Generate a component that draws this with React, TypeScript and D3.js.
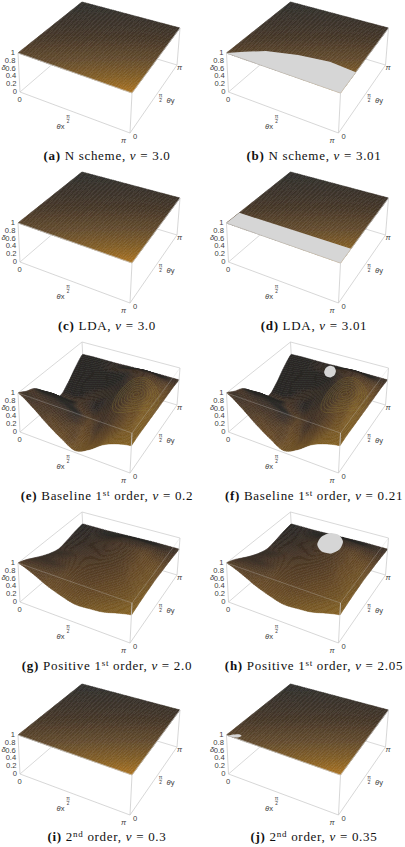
import * as d3 from "d3";
import {useMemo} from "react";

type Grid = number[][];

// heights, rows go θy = 0..π, columns θx = 0..π
const flatTop: Grid = [
    [1, 1],
    [1, 1],
];
const baselineSurface: Grid = [
    [1.0, .76, .47, .23, .05, .20, .45, .60, .68],
    [.88, .70, .46, .22, .03, .22, .48, .66, .70],
    [.78, .62, .40, .18, .06, .30, .56, .74, .70],
    [.55, .48, .30, .10, .20, .45, .68, .80, .70],
    [.31, .26, .12, .08, .32, .58, .78, .85, .70],
    [.05, .04, .15, .28, .48, .72, .88, .88, .70],
    [.20, .22, .30, .42, .62, .85, .96, .88, .70],
    [.45, .48, .55, .65, .78, .90, .92, .82, .70],
    [.65, .66, .66, .66, .67, .67, .68, .68, .68],
];
const positiveSurface: Grid = [
    [1.0, .86, .68, .55, .46, .48, .52, .62, .70],
    [.92, .82, .68, .58, .52, .54, .58, .65, .72],
    [.80, .74, .66, .62, .62, .66, .70, .74, .74],
    [.68, .64, .64, .68, .74, .78, .82, .80, .75],
    [.58, .60, .64, .72, .84, .90, .90, .84, .76],
    [.52, .56, .66, .78, .92, .97, .95, .86, .75],
    [.56, .60, .70, .82, .95, .98, .95, .84, .74],
    [.62, .64, .70, .78, .88, .90, .86, .78, .72],
    [.66, .66, .66, .67, .68, .69, .70, .70, .70],
];

// clipped regions (δ > 1) as [θx/π, θy/π]
const holeB = [[0, 0], [.1, .1], [.235, .21], [.48, .3], [.75, .345], [1, .32], [1, 0]];
const holeD = [[0, 0], [0, .2], [1, .22], [1, 0]];
const holeF = [[.591, .771], [.549, .816], [.507, .817], [.491, .772], [.509, .709], [.551, .664], [.593, .663], [.609, .708]];
const holeH = [[.652, .787], [.572, .862], [.487, .855], [.448, .767], [.474, .651], [.554, .576], [.639, .583], [.678, .671]];
const holeJ = [[.02, 0], [.05, 0], [.09, .02], [.1, .06], [.07, .07], [.03, .03]];

const tags = ["a", "b", "c", "d", "e", "f", "g", "h", "i", "j"];
const names = ["N scheme", "N scheme", "LDA", "LDA", "Baseline 1|st| order", "Baseline 1|st| order", "Positive 1|st| order", "Positive 1|st| order", "2|nd| order", "2|nd| order"];
const nus = ["3.0", "3.01", "3.0", "3.01", "0.2", "0.21", "2.0", "2.05", "0.3", "0.35"];
const surfaces = [flatTop, flatTop, flatTop, flatTop, baselineSurface, baselineSurface, positiveSurface, positiveSurface, flatTop, flatTop];
const holes = [null, holeB, null, holeD, null, holeF, null, holeH, null, holeJ];

const zTicks = [0, .2, .4, .6, .8, 1];
const ringRadii = [.025, .05, .075, .1, .125, .15, .175, .2];

const WIDTH = 405;
const HEIGHT = 847;
const rowY = [0, 170, 340, 510, 682];
const colX = [0, 208.5];
const captionY = [160, 330, 500, 670, 841];
const captionX = [107, 314];

// corners of the plot box on screen, first letter = z level
const box = {
    topL: [18, 53], topB: [82, 2], topR: [180, 28], topF: [132, 93],
    botL: [20, 92], botB: [84, 37], botR: [177, 65], botF: [130, 133],
};

const zScale = d3.scaleLinear().domain([0, 1]).range([0, 1]);
const colorFlat = d3.scaleLinear<string>()
    .domain([0, .35, .6, .8, 1])
    .range(["#343331", "#4a3a2a", "#6a5030", "#8a6429", "#b87c24"]);
const colorCurved = d3.scaleLinear<string>()
    .domain([0, .3, .6, .8, 1])
    .range(["#2e2b29", "#4b3829", "#6e4f2a", "#82602a", "#926c28"]);

const project = (u: number, v: number, z: number) => {
    const mix = (a: number[], b: number[], c: number[], d: number[], i: number) =>
        (a[i] * (1 - u) + b[i] * u) * (1 - v) + (c[i] * (1 - u) + d[i] * u) * v;
    const zz = zScale(z);
    return [0, 1].map(i =>
        mix(box.topL, box.topF, box.topB, box.topR, i) * zz +
        mix(box.botL, box.botF, box.botB, box.botR, i) * (1 - zz));
};

const catmull = (p: number[], t: number) => {
    const n = p.length - 1;
    const x = Math.min(t * n, n - 1e-6);
    const i = Math.floor(x);
    const f = x - i;
    const p0 = p[Math.max(i - 1, 0)], p1 = p[i], p2 = p[Math.min(i + 1, n)], p3 = p[Math.min(i + 2, n)];
    return p1 + .5 * f * (p2 - p0 + f * (2 * p0 - 5 * p1 + 4 * p2 - p3 + f * (3 * (p1 - p2) + p3 - p0)));
};

const sample = (grid: Grid, u: number, v: number) =>
    Math.min(1, Math.max(0, catmull(grid.map(row => catmull(row, u)), v)));

const shade = (grid: Grid, u: number, v: number) => {
    const e = .02;
    const dzdu = (sample(grid, Math.min(u + e, 1), v) - sample(grid, Math.max(u - e, 0), v)) / (2 * e);
    const dzdv = (sample(grid, u, Math.min(v + e, 1)) - sample(grid, u, Math.max(v - e, 0))) / (2 * e);
    const base = (1 - v) * (.5 + .5 * u) + v * .22 * u;
    const steep = Math.max(0, Math.hypot(dzdu, dzdv) - 1.2);
    const rightGlow = u > .6 ? .16 * Math.max(0, -dzdu) : 0;
    return Math.max(0, Math.min(1, base - .2 * Math.max(0, -dzdv) - .08 * Math.max(0, dzdv) - .14 * steep + rightGlow));
};

const line = d3.line();
const closedCurve = d3.line().curve(d3.curveCardinalClosed.tension(.3));

const Surface = ({grid}: {grid: Grid}) => {
    const curved = grid.length > 2;
    const runs = useMemo(() => {
        const n = curved ? 64 : 56;
        const out: {d: string, t: number}[] = [];
        let cur = "", curT = -1;
        // back to front: high θy first, low θx first
        for (let j = n - 1; j >= 0; j--) {
            for (let i = 0; i < n; i++) {
                const u0 = i / n, u1 = (i + 1) / n, v0 = j / n, v1 = (j + 1) / n;
                const pts = [[u0, v0], [u1, v0], [u1, v1], [u0, v1]].map(([u, v]) => project(u, v, sample(grid, u, v)));
                const t = Math.round(shade(grid, (u0 + u1) / 2, (v0 + v1) / 2) * 36) / 36;
                if (t !== curT && cur) {
                    out.push({d: cur, t: curT});
                    cur = "";
                }
                curT = t;
                cur += line(pts as [number, number][]) + "Z";
            }
        }
        if (cur) out.push({d: cur, t: curT});
        return out;
    }, [grid]);
    const colorScale = curved ? colorCurved : colorFlat;
    return <g filter="url(#soft)">
        {runs.map((r, k) => {
            const c = colorScale(r.t);
            return <path key={k} d={r.d} fill={c} stroke={d3.color(c)!.darker(.4).formatHex()} strokeWidth={.45} />;
        })}
        {grid === baselineSurface && ringRadii.map(r => {
            const pts = d3.range(25).map(k => {
                const a = k / 24 * 2 * Math.PI;
                const u = .78 + r * Math.cos(a), v = .57 + r * Math.sin(a);
                return project(u, v, sample(grid, Math.min(u, 1), v));
            });
            return <path key={r} d={line(pts as [number, number][]) as string} fill="none" stroke="#8f7f34" strokeWidth={.55} opacity={.55} />;
        })}
    </g>;
};

const seg = (a: number[], b: number[]) => `M${a[0]},${a[1]}L${b[0]},${b[1]}`;

const Labels = () => {
    const tick = {fontFamily: "Liberation Sans, Arimo, sans-serif", fontSize: 7.6, fill: "#404040"};
    const frac = (x: number, y: number) => <g>
        <text {...tick} fontSize={5.4} x={x} y={y - 1} textAnchor="middle">π</text>
        <line x1={x - 1.8} x2={x + 1.8} y1={y} y2={y} stroke="#777" strokeWidth={.4} />
        <text {...tick} fontSize={4.6} x={x} y={y + 4.2} textAnchor="middle">2</text>
    </g>;
    return <g {...tick}>
        {zTicks.map((z, k) => {
            const p = project(0, 0, z);
            return <text key={k} x={p[0] - 3} y={p[1] + 2} textAnchor="end">{z}</text>;
        })}
        <text x={1.5} y={70} fontStyle="italic">δ</text>
        <text x={17.5} y={102}>0</text>
        <text x={56.5} y={129} fontStyle="italic">θ<tspan fontStyle="normal">x</tspan></text>
        {frac(68, 119)}
        <text x={121} y={143} fontStyle="italic">π</text>
        <text x={133} y={138.5}>0</text>
        {frac(160.5, 98)}
        <text x={166.5} y={103} fontStyle="italic">θ<tspan fontStyle="normal">y</tspan></text>
        <text x={177} y={70} fontStyle="italic">π</text>
    </g>;
};

const Caption = ({index}: {index: number}) => {
    const parts = names[index].split("|");
    const x = captionX[index % 2];
    const y = captionY[Math.floor(index / 2)];
    return <text x={x} y={y} textAnchor="middle" fontFamily="Liberation Serif, serif" fontSize={13} letterSpacing={.7} fill="#111">
        <tspan fontWeight="bold">({tags[index]})</tspan>
        <tspan> {parts[0]}</tspan>
        {parts.length > 1 && <tspan fontSize={9} dy={-4.5}>{parts[1]}</tspan>}
        {parts.length > 1 && <tspan dy={4.5}>{parts[2]}</tspan>}
        <tspan>, </tspan>
        <tspan fontStyle="italic">ν</tspan>
        <tspan> = {nus[index]}</tspan>
    </text>;
};

const Panel = ({index}: {index: number}) => {
    const col = index % 2;
    const row = Math.floor(index / 2);
    const hole = holes[index];
    const backEdges = [
        seg(box.botL, box.botB), seg(box.botB, box.botR), seg(box.botB, box.topB),
        seg(box.topL, box.topB), seg(box.topB, box.topR),
    ].join("");
    const frontEdges = [
        seg(box.topL, box.botL), seg(box.topF, box.botF), seg(box.topR, box.botR),
        seg(box.botL, box.botF), seg(box.botF, box.botR),
    ].join("");
    const rimEdges = seg(box.topL, box.topF) + seg(box.topF, box.topR);
    return <g transform={`translate(${colX[col]},${rowY[row]})`}>
        <path d={backEdges} fill="none" stroke="#cfcfcf" strokeWidth={.8} />
        <Surface grid={surfaces[index]} />
        {hole && <path
            d={(hole === holeB || hole === holeD
                ? line(hole.map(([u, v]) => project(u, v, 1)) as [number, number][]) + "Z"
                : closedCurve(hole.map(([u, v]) => project(u, v, 1)) as [number, number][])) as string}
            fill="#d6d6d6" />}
        <path d={frontEdges} fill="none" stroke="#cdcdcd" strokeWidth={.8} />
        <path d={rimEdges} fill="none" stroke="#cdcdcd" strokeWidth={.7} strokeOpacity={surfaces[index] === flatTop ? 1 : .4} />
        <Labels />
    </g>;
};

export default function App() {
    return (
        <svg width={WIDTH} height={HEIGHT} viewBox={`0 0 ${WIDTH} ${HEIGHT}`}
            style={{position: "absolute", left: 0, top: 0, background: "#fff"}}>
            <defs>
                <filter id="soft" x="-5%" y="-5%" width="110%" height="110%">
                    <feGaussianBlur stdDeviation=".3" />
                </filter>
            </defs>
            {tags.map((t, i) => <Panel key={t} index={i} />)}
            {tags.map((t, i) => <Caption key={t} index={i} />)}
        </svg>
    );
}
